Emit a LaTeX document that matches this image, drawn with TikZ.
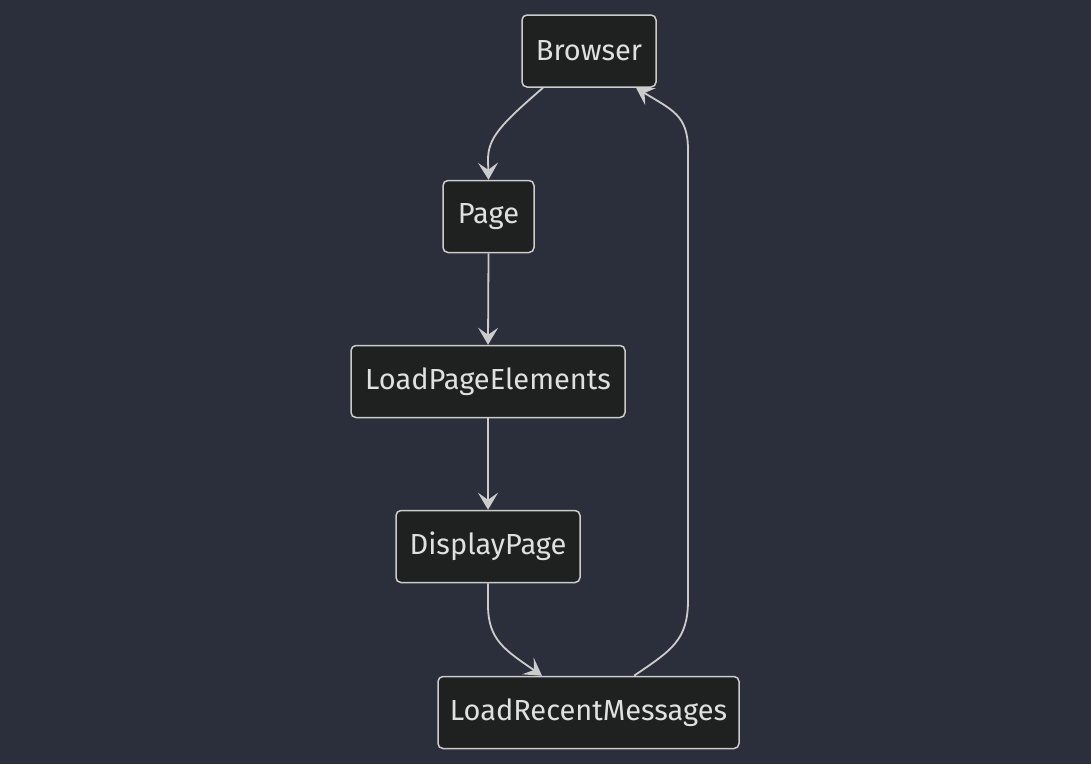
\documentclass[tikz,border=0pt]{standalone}
\usepackage{fontspec}
\setmainfont{Fira Sans}
\usetikzlibrary{arrows.meta,calc}
\definecolor{bg}{HTML}{2B2F3B}
\definecolor{nodefill}{HTML}{1F2020}
\definecolor{edge}{HTML}{CCCCCC}
\definecolor{txt}{HTML}{E0E0E0}
\newcommand{\lowered}[1]{\raisebox{-2pt}{#1}}
\begin{document}
\begin{tikzpicture}[x=1pt,y=-1pt,
  box/.style={draw=edge,fill=nodefill,line width=1.5pt,rounded corners=5pt,
    text=txt,font=\fontsize{29}{34}\selectfont,minimum height=72pt,inner sep=0pt,align=center},
  arr/.style={draw=edge,line width=1.8pt,-{Stealth[length=17pt,width=20pt,inset=7pt]}}]
\fill[bg] (0,0) rectangle (1091,764);
\useasboundingbox (0,0) rectangle (1091,764);
\node[box,minimum width=134pt] (browser) at (589,51) {\lowered{Browser}};
\node[box,minimum width=91pt] (page) at (488.5,216.5) {\lowered{Page}};
\node[box,minimum width=274pt] (lpe) at (488,381.5) {\lowered{LoadPageElements}};
\node[box,minimum width=184pt] (disp) at (488,546.5) {\lowered{DisplayPage}};
\node[box,minimum width=301pt] (lrm) at (588.5,712.5) {\lowered{LoadRecentMessages}};
\draw[arr] ($(browser.south)+(-46,0)$) .. controls (500,125) and (488,138) .. (488,160) -- (page.north);
\draw[arr] (page.south) -- (lpe.north);
\draw[arr] (lpe.south) -- (disp.north);
\draw[arr] (disp.south) -- (488,605) .. controls (488,640) and (505,650) .. ($(lrm.north)+(-46.5,0)$);
\draw[arr] ($(lrm.north)+(45.5,0)$) .. controls (672,650) and (688,640) .. (688,600) -- (688,150) .. controls (688,115) and (672,110) .. ($(browser.south)+(47,0)$);
\end{tikzpicture}
\end{document}
